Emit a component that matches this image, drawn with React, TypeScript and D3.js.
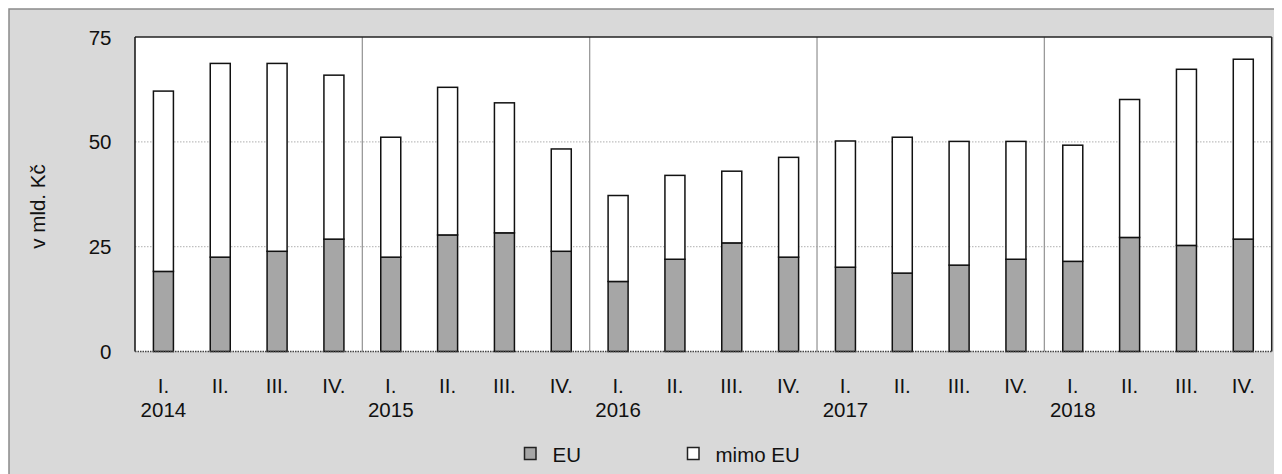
import React from "react";
import * as d3 from "d3";

const quarters = ["I.", "II.", "III.", "IV.", "I.", "II.", "III.", "IV.", "I.", "II.", "III.", "IV.", "I.", "II.", "III.", "IV.", "I.", "II.", "III.", "IV."];
const yearLabels = ["2014", "", "", "", "2015", "", "", "", "2016", "", "", "", "2017", "", "", "", "2018", "", "", ""];
const euValues = [19.1, 22.5, 23.9, 26.8, 22.5, 27.8, 28.3, 23.9, 16.7, 22.0, 25.9, 22.5, 20.1, 18.7, 20.6, 22.0, 21.5, 27.2, 25.3, 26.8];
const mimoEuValues = [43.0, 46.2, 44.8, 39.1, 28.6, 35.2, 31.0, 24.4, 20.5, 20.0, 17.1, 23.8, 30.1, 32.4, 29.5, 28.1, 27.7, 32.9, 42.0, 42.9];
const yTicks = [0, 25, 50, 75];
const seriesNames = ["EU", "mimo EU"];
const seriesColors = ["#a6a6a6", "#ffffff"];

const W = 1274;
const H = 466;
const FONT = "'Liberation Sans', Arial, sans-serif";
const FS = 20.5;

export default function App() {
  const left = 127, right = 1263.7, top = 29, bottom = 343.5;
  const idx = quarters.map((_, i) => i);
  const x = d3.scaleBand<number>().domain(idx).range([left, right]).paddingInner(0).paddingOuter(0);
  const y = d3.scaleLinear().domain([0, 75]).range([bottom, top]);
  const bw = x.bandwidth();
  const barW = bw * 0.352;

  const rows = idx.map((i) => ({ i, eu: euValues[i], mimo: mimoEuValues[i] }));
  const stacked = d3.stack<any>().keys(["eu", "mimo"])(rows);

  const separators = [4, 8, 12, 16].map((k) => left + k * bw);

  return (
    <svg width={W} height={H} style={{ display: "block" }} fontFamily={FONT}>
      <rect x={1} y={1} width={1400} height={600} fill="#d9d9d9" stroke="#8a8a8a" strokeWidth={1.5} />
      <rect x={left} y={top} width={right - left} height={bottom - top} fill="#ffffff" />
      {yTicks.filter((t) => t > 0 && t < 75).map((t) => (
        <line key={"g" + t} x1={left} x2={right} y1={y(t)} y2={y(t)} stroke="#bfbfbf" strokeWidth={1.2} strokeDasharray="1.5 1.5" />
      ))}
      {separators.map((sx, k) => (
        <line key={"s" + k} x1={sx} x2={sx} y1={top} y2={bottom} stroke="#9a9a9a" strokeWidth={1.3} />
      ))}
      {stacked.map((layer, li) =>
        layer.map((d: any, j: number) => {
          const cx = (x(j) as number) + bw / 2;
          return (
            <rect
              key={li + "-" + j}
              x={cx - barW / 2}
              y={y(d[1])}
              width={barW}
              height={y(d[0]) - y(d[1])}
              fill={seriesColors[li]}
              stroke="#111"
              strokeWidth={1.5}
            />
          );
        })
      )}
      <line x1={left} x2={right} y1={top} y2={top} stroke="#222" strokeWidth={1.5} />
      <line x1={right} x2={right} y1={top} y2={bottom} stroke="#222" strokeWidth={1.5} />
      <line x1={left} x2={left} y1={top} y2={bottom} stroke="#111" strokeWidth={1.5} />
      <line x1={left} x2={right} y1={bottom} y2={bottom} stroke="#444" strokeWidth={1.5} strokeDasharray="1.5 1" />
      {yTicks.map((t) => (
        <text key={"yt" + t} x={103.5} y={y(t) + 7.5} textAnchor="end" fontSize={FS} fill="#111">
          {t}
        </text>
      ))}
      <text transform={`translate(37,198.5) rotate(-90)`} textAnchor="middle" fontSize={FS} fill="#111">
        v mld. Kč
      </text>
      {idx.map((i) => {
        const cx = (x(i) as number) + bw / 2;
        return (
          <g key={"xl" + i}>
            <text x={cx} y={385} textAnchor="middle" fontSize={FS} fill="#111">{quarters[i]}</text>
            {yearLabels[i] && (
              <text x={cx} y={408.5} textAnchor="middle" fontSize={FS} fill="#111">{yearLabels[i]}</text>
            )}
          </g>
        );
      })}
      {seriesNames.map((name, k) => {
        const sx = k === 0 ? 516.5 : 679.5;
        return (
          <g key={"lg" + k}>
            <rect x={sx} y={439.5} width={11.5} height={12} fill={seriesColors[k]} stroke="#222" strokeWidth={1.5} />
            <text x={sx + 28} y={453.5} fontSize={FS} fill="#111">{name}</text>
          </g>
        );
      })}
    </svg>
  );
}
